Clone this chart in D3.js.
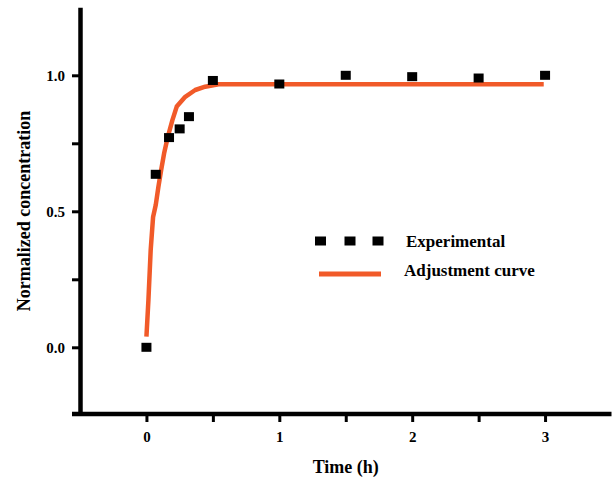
<!DOCTYPE html>
<html>
<head>
<meta charset="utf-8">
<script src="https://cdn.jsdelivr.net/npm/d3@7"></script>
<style>
  body { margin: 0; background: #fff; }
  text { font-family: "Liberation Serif", "Times New Roman", serif; font-weight: bold; }
</style>
</head>
<body>
<script>
let w = 614;
let h = 477;

// experimental points
let times = [0, 0.07, 0.17, 0.25, 0.32, 0.5, 1, 1.5, 2, 2.5, 3];
let values = [0, 0.636, 0.771, 0.803, 0.848, 0.981, 0.968, 1.0, 0.995, 0.99, 1.0];

// adjustment curve
let fitT = [0, 0.015, 0.032, 0.05, 0.07, 0.09, 0.111, 0.133, 0.161, 0.196, 0.228, 0.292, 0.367, 0.442, 0.543, 2.99];
let fitV = [0.039, 0.174, 0.358, 0.479, 0.523, 0.59, 0.652, 0.713, 0.774, 0.836, 0.885, 0.921, 0.946, 0.958, 0.967, 0.967];

let xTicks = [0, 0.5, 1, 1.5, 2, 2.5, 3];
let yTicks = [0, 0.25, 0.5, 0.75, 1];

let orange = "#f15a29";

let xScale = d3.scaleLinear()
  .domain([-0.5, 3.5])
  .range([80, 611.5]);

let yScale = d3.scaleLinear()
  .domain([-0.25, 1.25])
  .range([415.3, 7.3]);

let svg = d3.select("body")
  .append("svg")
  .attr("width", w)
  .attr("height", h);

//Axes
let xAxis = d3.axisBottom(xScale)
  .tickValues(xTicks)
  .tickSize(8)
  .tickSizeOuter(0)
  .tickPadding(9)
  .tickFormat(d => Number.isInteger(d) ? d : "");

let yAxis = d3.axisLeft(yScale)
  .tickValues(yTicks)
  .tickSize(8)
  .tickSizeOuter(0)
  .tickPadding(7)
  .tickFormat(d => (d * 2) % 1 === 0 ? d.toFixed(1) : "");

let gx = svg.append("g")
  .attr("transform", "translate(0,414)")
  .call(xAxis);

let gy = svg.append("g")
  .attr("transform", "translate(80,0)")
  .call(yAxis);

// x axis line runs a little past the y axis on the left
gx.select(".domain").remove();
gx.append("line")
  .attr("x1", 72)
  .attr("x2", xScale.range()[1])
  .attr("stroke", "#000")
  .attr("stroke-width", 4.5);

gy.select(".domain").attr("stroke", "#000").attr("stroke-width", 4.5);

[gx, gy].forEach(function(g) {
  g.selectAll(".tick line").attr("stroke", "#000").attr("stroke-width", 3);
  g.selectAll(".tick text")
    .attr("fill", "#000")
    .attr("font-size", "15px")
    .attr("font-family", "Liberation Serif")
    .attr("font-weight", "bold");
});

//Axis titles
svg.append("text")
  .attr("x", xScale(1.5))
  .attr("y", 473)
  .attr("text-anchor", "middle")
  .attr("font-size", "18px")
  .text("Time (h)");

svg.append("text")
  .attr("transform", "translate(30,211) rotate(-90)")
  .attr("text-anchor", "middle")
  .attr("font-size", "18px")
  .text("Normalized concentration");

//Fitted curve
let line = d3.line()
  .x((d, i) => xScale(fitT[i]))
  .y(d => yScale(d));

svg.append("path")
  .datum(fitV)
  .attr("d", line)
  .attr("fill", "none")
  .attr("stroke", orange)
  .attr("stroke-width", 4.5)
  .attr("stroke-linejoin", "round");

//Experimental points
svg.selectAll("rect.pt")
  .data(values)
  .enter()
  .append("rect")
  .attr("class", "pt")
  .attr("x", (d, i) => xScale(times[i]) - 5)
  .attr("y", d => yScale(d) - 4.5)
  .attr("width", 10)
  .attr("height", 9)
  .attr("fill", "#000");

//Legend
let legend = svg.append("g");

legend.selectAll("rect")
  .data([320.5, 350, 378])
  .enter()
  .append("rect")
  .attr("x", d => d - 5.5)
  .attr("y", 236.5)
  .attr("width", 11)
  .attr("height", 9)
  .attr("fill", "#000");

legend.append("text")
  .attr("x", 406)
  .attr("y", 247)
  .attr("font-size", "17px")
  .text("Experimental");

legend.append("line")
  .attr("x1", 319)
  .attr("x2", 381)
  .attr("y1", 274)
  .attr("y2", 274)
  .attr("stroke", orange)
  .attr("stroke-width", 5);

legend.append("text")
  .attr("x", 404)
  .attr("y", 276)
  .attr("font-size", "17px")
  .text("Adjustment curve");
</script>
</body>
</html>
